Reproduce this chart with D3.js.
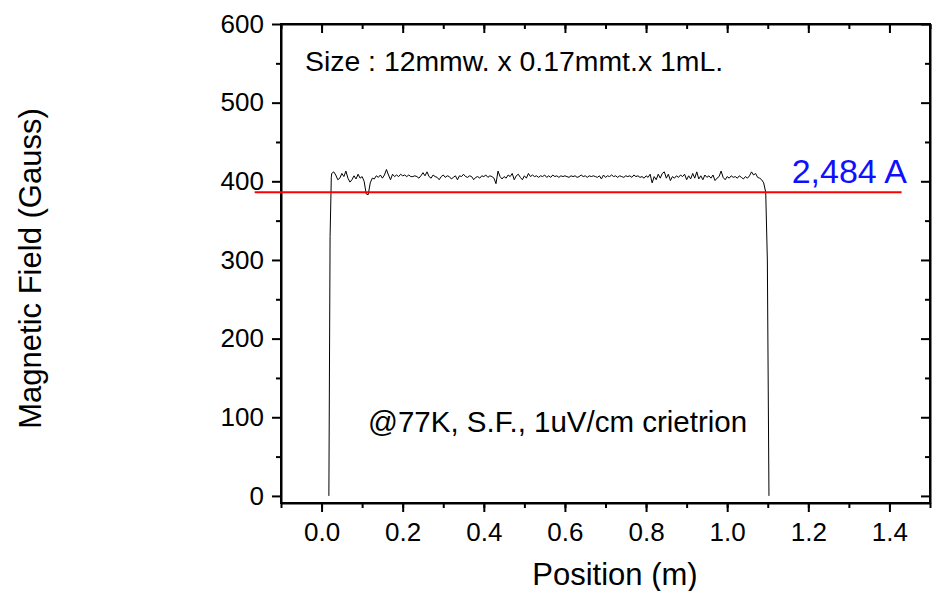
<!DOCTYPE html>
<html><head><meta charset="utf-8">
<script src="https://cdn.jsdelivr.net/npm/d3@7"></script>
<style>
html,body{margin:0;padding:0;background:#fff;}
svg{display:block;font-family:Arial,"Liberation Sans",sans-serif;}
</style></head>
<body><svg id="c" width="945" height="591"></svg>
<script>
// Position (m)
const position = [0.018,0.021,0.024,
0.025,0.030,0.035,0.040,0.045,0.050,0.055,0.060,0.065,0.070,
0.075,0.080,0.085,0.090,0.095,0.100,0.105,0.110,0.115,0.120,
0.125,0.130,0.135,0.140,0.145,0.150,0.155,0.160,0.165,0.170,
0.175,0.180,0.185,0.190,0.195,0.200,0.205,0.210,0.215,0.220,
0.225,0.230,0.235,0.240,0.245,0.250,0.255,0.260,0.265,0.270,
0.275,0.280,0.285,0.290,0.295,0.300,0.305,0.310,0.315,0.320,
0.325,0.330,0.335,0.340,0.345,0.350,0.355,0.360,0.365,0.370,
0.375,0.380,0.385,0.390,0.395,0.400,0.405,0.410,0.415,0.420,
0.425,0.430,0.435,0.440,0.445,0.450,0.455,0.460,0.465,0.470,
0.475,0.480,0.485,0.490,0.495,0.500,0.505,0.510,0.515,0.520,
0.525,0.530,0.535,0.540,0.545,0.550,0.555,0.560,0.565,0.570,
0.575,0.580,0.585,0.590,0.595,0.600,0.605,0.610,0.615,0.620,
0.625,0.630,0.635,0.640,0.645,0.650,0.655,0.660,0.665,0.670,
0.675,0.680,0.685,0.690,0.695,0.700,0.705,0.710,0.715,0.720,
0.725,0.730,0.735,0.740,0.745,0.750,0.755,0.760,0.765,0.770,
0.775,0.780,0.785,0.790,0.795,0.800,0.805,0.810,0.815,0.820,
0.825,0.830,0.835,0.840,0.845,0.850,0.855,0.860,0.865,0.870,
0.875,0.880,0.885,0.890,0.895,0.900,0.905,0.910,0.915,0.920,
0.925,0.930,0.935,0.940,0.945,0.950,0.955,0.960,0.965,0.970,
0.975,0.980,0.985,0.990,0.995,1.000,1.005,1.010,1.015,1.020,
1.025,1.030,1.035,1.040,1.045,1.050,1.055,1.060,1.065,1.070,
1.075,1.080,1.085,1.090,1.095,1.099,1.103];
// Magnetic field (Gauss)
const field = [0,330,405,
410,412,408,402,404,410,406,413,404,399,
402,407,403,409,404,406,400,384,383,398,
404,403,407,405,408,404,408,415,408,402,
409,406,408,406,409,407,408,406,408,406,
406,407,406,404,407,411,407,412,406,404,
408,406,405,402,406,408,405,407,406,403,
405,407,402,407,406,409,406,405,407,406,
402,405,406,404,407,406,408,405,407,406,
404,397,413,406,403,406,404,408,406,410,
402,407,409,405,402,407,404,410,406,408,
406,407,405,407,406,408,405,407,405,408,
406,407,405,407,406,407,406,405,407,406,
407,405,406,408,406,407,405,407,406,407,
406,405,407,403,408,405,407,406,408,406,
407,405,407,406,405,407,406,407,405,408,
406,407,405,406,404,407,405,409,398,406,
402,409,404,410,412,404,409,401,406,404,
407,405,408,406,409,402,407,403,410,404,
412,403,407,402,408,405,407,404,408,401,
404,406,413,405,402,406,404,407,405,406,
404,407,405,403,406,404,407,412,408,410,
405,404,402,398,386,300,0];
const criterionLine = {x: [-0.165, 1.43], y: 386, label: "2,484 A"};
const xTicks = [0.0,0.2,0.4,0.6,0.8,1.0,1.2,1.4];
const yTicks = [0,100,200,300,400,500,600];
const xTitle = "Position (m)";
const yTitle = "Magnetic Field (Gauss)";
const note1 = "Size : 12mmw. x 0.17mmt.x 1mL.";
const note2 = "@77K, S.F., 1uV/cm crietrion";

const svg = d3.select("#c");
const L=281, R=930, T=24, B=503;
const x = d3.scaleLinear().domain([-0.1,1.5]).range([L,R]);
const y = d3.scaleLinear().domain([-9,600]).range([B,T]);
const fs = 26;
const ff = "Arial, 'Liberation Sans', sans-serif";

const xMinor = d3.range(-0.1,1.51,0.1).map(v=>+v.toFixed(2));
const yMinor = d3.range(50,600,100);

function styleAxis(g){g.selectAll("path.domain").attr("stroke","#000").attr("stroke-width",2);
 g.selectAll(".tick line").attr("stroke","#000").attr("stroke-width",2);}

// bottom
const gb = svg.append("g").attr("transform",`translate(0,${B})`);
gb.call(d3.axisBottom(x).tickValues(xMinor).tickSize(5).tickFormat("").tickSizeOuter(0));
gb.append("g").call(d3.axisBottom(x).tickValues(xTicks).tickSize(9).tickFormat(d3.format(".1f")).tickSizeOuter(0))
  .call(g=>g.select(".domain").remove())
  .selectAll("text").attr("font-size",fs).attr("fill","#000").attr("dy","1.0em").attr("font-family",ff);
styleAxis(gb);
// top
const gt = svg.append("g").attr("transform",`translate(0,${T})`);
gt.call(d3.axisBottom(x).tickValues(xMinor).tickSize(5).tickFormat("").tickSizeOuter(0));
gt.append("g").call(d3.axisBottom(x).tickValues(xTicks).tickSize(9).tickFormat("").tickSizeOuter(0)).call(g=>g.select(".domain").remove());
styleAxis(gt);
// left
const gl = svg.append("g").attr("transform",`translate(${L},0)`);
gl.call(d3.axisLeft(y).tickValues(yMinor).tickSize(5).tickFormat("").tickSizeOuter(0));
gl.append("g").call(d3.axisLeft(y).tickValues(yTicks).tickSize(9).tickFormat(d3.format("d")).tickSizeOuter(0))
  .call(g=>g.select(".domain").remove())
  .selectAll("text").attr("font-size",fs).attr("fill","#000").attr("x",-17).attr("font-family",ff);
styleAxis(gl);
// right
const gr = svg.append("g").attr("transform",`translate(${R},0)`);
gr.call(d3.axisRight(y).tickValues(yMinor).tickSize(-5).tickFormat("").tickSizeOuter(0));
gr.append("g").call(d3.axisRight(y).tickValues(yTicks).tickSize(-9).tickFormat("").tickSizeOuter(0)).call(g=>g.select(".domain").remove());
styleAxis(gr);
svg.append("rect").attr("x",L).attr("y",T).attr("width",R-L).attr("height",B-T)
  .attr("fill","none").attr("stroke","#000").attr("stroke-width",2);

// data curve
const pts = position.map((p,i)=>[p,field[i]]);
svg.append("path").datum(pts)
  .attr("d",d3.line().x(d=>x(d[0])).y(d=>y(d[1])))
  .attr("fill","none").attr("stroke","#000").attr("stroke-width",1);

// criterion line
svg.append("line").attr("x1",x(criterionLine.x[0])).attr("x2",x(criterionLine.x[1]))
  .attr("y1",y(criterionLine.y)).attr("y2",y(criterionLine.y))
  .attr("stroke","#ff0000").attr("stroke-width",2);
svg.append("text").attr("x",907).attr("y",y(criterionLine.y)-9).attr("text-anchor","end")
  .attr("font-size",34).attr("fill","#1010ff").text(criterionLine.label);

svg.append("text").attr("x",305).attr("y",71).attr("font-size",28.4).attr("fill","#000").text(note1);
svg.append("text").attr("x",368).attr("y",432).attr("font-size",29.5).attr("fill","#000").text(note2);

svg.append("text").attr("x",615).attr("y",585).attr("text-anchor","middle")
  .attr("font-size",31).attr("fill","#000").text(xTitle);
svg.append("text").attr("transform",`translate(41,${(T+B)/2+5}) rotate(-90)`).attr("text-anchor","middle")
  .attr("font-size",31).attr("fill","#000").text(yTitle);
</script></body></html>
